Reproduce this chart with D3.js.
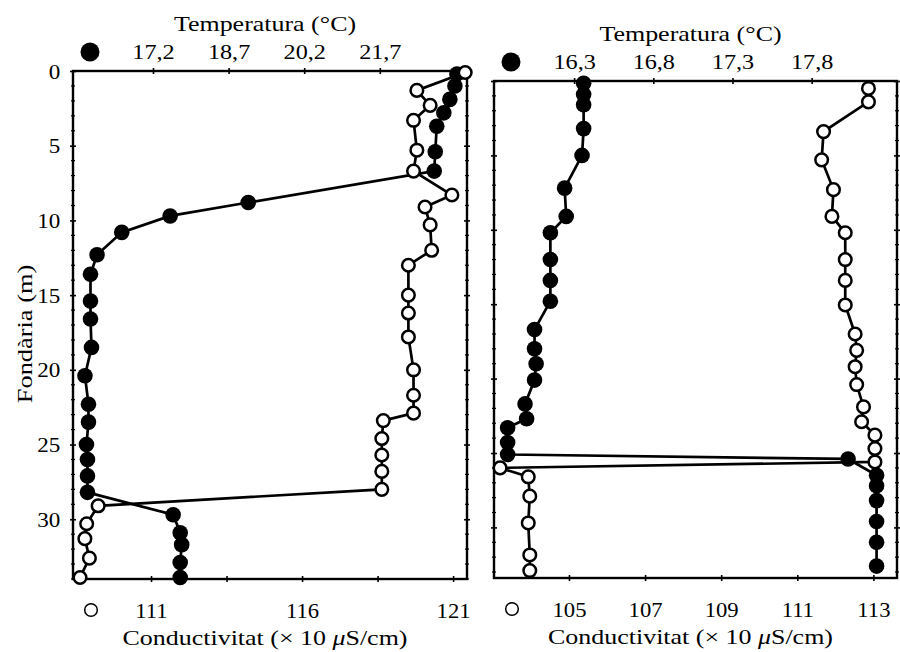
<!DOCTYPE html>
<html>
<head>
<meta charset="utf-8">
<script src="https://cdn.jsdelivr.net/npm/d3@7"></script>
<style>
body { margin: 0; background: #fff; }
svg { display: block; }
</style>
</head>
<body>
<svg id="chart" width="900" height="652"></svg>
<script>
// ---- data ----
var depthTicks = [0, 5, 10, 15, 20, 25, 30];

// left profile
var leftTempTicks = [17.2, 18.7, 20.2, 21.7];
var leftTempExtraTicks = [23.2];
var leftCondTicks = [111, 116, 121];
var leftCondExtraTicks = [113.5, 118.5];
var leftTempDepth = [0.2, 1.0, 1.9, 2.8, 3.7, 5.4, 6.7, 8.8, 9.7, 10.8, 12.3, 13.6, 15.4, 16.6, 18.5,
    20.4, 22.3, 23.5, 25.0, 26.0, 27.1, 28.2, 29.7, 30.9, 31.7, 32.9, 33.9];
var leftTemp = [23.23, 23.19, 23.09, 22.97, 22.83, 22.80, 22.78, 19.09, 17.54, 16.58, 16.09, 15.96, 15.96, 15.96, 15.98,
    15.85, 15.92, 15.92, 15.88, 15.90, 15.90, 15.90, 17.60, 17.74, 17.77, 17.74, 17.74];
var leftCondDepth = [0.1, 1.3, 2.3, 3.3, 5.3, 6.7, 8.3, 9.1, 10.3, 12.0, 13.0, 15.0, 16.2, 17.8, 20.0,
    21.7, 22.9, 23.4, 24.6, 25.7, 26.8, 28.0, 29.1, 30.3, 31.3, 32.6, 33.9];
var leftCond = [121.40, 119.80, 120.24, 119.69, 119.80, 119.69, 120.96, 120.07, 120.24, 120.29, 119.52, 119.52, 119.52, 119.52, 119.69,
    119.69, 119.69, 118.69, 118.64, 118.64, 118.64, 118.64, 109.25, 108.87, 108.81, 108.96, 108.65];

// right profile
var rightTempTicks = [16.3, 16.8, 17.3, 17.8];
var rightTempExtraTicks = [];
var rightCondTicks = [105, 107, 109, 111, 113];
var rightCondExtraTicks = [];
var rightTempDepth = [0.15, 0.9, 1.6, 3.2, 5.0, 7.2, 9.1, 10.2, 12.0, 13.4, 14.8, 16.7, 18.0, 19.0, 20.1,
    21.7, 22.7, 23.3, 24.3, 25.1, 25.4, 26.5, 27.2, 28.2, 29.6, 31.0, 32.6];
var rightTemp = [16.36, 16.36, 16.36, 16.36, 16.35, 16.24, 16.25, 16.15, 16.15, 16.15, 16.15, 16.05, 16.05, 16.06, 16.05,
    15.99, 16.00, 15.88, 15.88, 15.88, 18.03, 18.21, 18.21, 18.21, 18.21, 18.21, 18.21];
var rightCondDepth = [0.5, 1.4, 3.4, 5.3, 7.3, 9.1, 10.2, 12.0, 13.4, 15.05, 17.0, 18.1, 19.2, 20.4, 21.9,
    22.9, 23.8, 24.7, 25.6, 26.0, 26.6, 27.9, 29.7, 31.85, 32.9];
var rightCond = [112.87, 112.87, 111.69, 111.64, 111.95, 111.91, 112.26, 112.26, 112.26, 112.26, 112.52, 112.56, 112.52, 112.56, 112.74,
    112.69, 113.04, 113.04, 113.04, 103.19, 103.93, 103.97, 103.93, 103.97, 103.97];

// ---- layout ----
var FONT = '"Liberation Serif", "Times New Roman", serif';
var panels = [
    { left: 73, right: 467, top: 71, bottom: 579, depthMax: 34,
      tempDomain: [15.613, 23.43], condDomain: [108.417, 121.46],
      tempTicks: leftTempTicks, tempExtra: leftTempExtraTicks,
      condTicks: leftCondTicks, condExtra: leftCondExtraTicks,
      tempDepth: leftTempDepth, temp: leftTemp, condDepth: leftCondDepth, cond: leftCond,
      depthLabels: true },
    { left: 494, right: 897, top: 81, bottom: 578, depthMax: 33.4,
      tempDomain: [15.794, 18.339], condDomain: [103.03, 113.62],
      tempTicks: rightTempTicks, tempExtra: rightTempExtraTicks,
      condTicks: rightCondTicks, condExtra: rightCondExtraTicks,
      tempDepth: rightTempDepth, temp: rightTemp, condDepth: rightCondDepth, cond: rightCond,
      depthLabels: false }
];

var fmt = d3.formatLocale({ decimal: ",", thousands: ".", grouping: [3], currency: ["", ""] }).format(".1f");

var svg = d3.select("#chart");

function addText(g, x, y, txt, anchor, stretch, size) {
    return g.append("text")
        .attr("transform", "translate(" + x + "," + y + ") scale(" + stretch + ",1)")
        .attr("text-anchor", anchor)
        .style("font-family", FONT)
        .style("font-size", size + "px")
        .text(txt);
}

function styleAxis(sel, vertical) {
    sel.select(".domain").remove();
    sel.selectAll(".tick line").attr("stroke", "#000").attr("stroke-width", 1.6);
    if (vertical) sel.selectAll(".tick line").attr("x1", -3).attr("x2", 3);
    else sel.selectAll(".tick line").attr("y1", -3).attr("y2", 3);
    sel.selectAll("text")
        .style("font-family", FONT)
        .style("font-size", "22px")
        .attr("fill", "#000");
}

// labelled ticks plus a few unlabelled ones
function tickFmt(labelled, f) {
    return function(d) { return labelled.indexOf(d) >= 0 ? f(d) : ""; };
}

function drawSeries(g, depths, values, xs, y) {
    var pts = depths.map(function(d, i) { return { d: d, v: values[i] }; });
    var line = d3.line()
        .x(function(d) { return xs(d.v); })
        .y(function(d) { return y(d.d); });
    g.append("path")
        .datum(pts)
        .attr("d", line)
        .attr("fill", "none")
        .attr("stroke", "#000")
        .attr("stroke-width", 2.7);
    return pts;
}

function drawDots(g, pts, xs, y, filled) {
    g.append("g")
        .selectAll("circle")
        .data(pts)
        .enter()
        .append("circle")
        .attr("cx", function(d) { return xs(d.v); })
        .attr("cy", function(d) { return y(d.d); })
        .attr("r", filled ? 7.8 : 6.3)
        .attr("fill", filled ? "#000" : "#fff")
        .attr("stroke", "#000")
        .attr("stroke-width", filled ? 0 : 2.5);
}

panels.forEach(function(p) {
    var g = svg.append("g");
    var y = d3.scaleLinear().domain([0, p.depthMax]).range([p.top, p.bottom]);
    var xT = d3.scaleLinear().domain(p.tempDomain).range([p.left, p.right]);
    var xC = d3.scaleLinear().domain(p.condDomain).range([p.left, p.right]);

    // minor depth ticks on both edges
    var minor = d3.range(1, Math.floor(p.depthMax) + 1).filter(function(d) { return d % 5 !== 0; });
    [p.left, p.right].forEach(function(xe) {
        g.append("g").selectAll("line").data(minor).enter().append("line")
            .attr("x1", xe - 2).attr("x2", xe + 2)
            .attr("y1", function(d) { return y(d); })
            .attr("y2", function(d) { return y(d); })
            .attr("stroke", "#000").attr("stroke-width", 1.2);
    });

    // depth axis (left) and plain ticks on right edge
    var leftAx = g.append("g")
        .attr("transform", "translate(" + p.left + ",0)")
        .call(d3.axisLeft(y).tickValues(depthTicks).tickSize(3).tickPadding(9)
            .tickFormat(p.depthLabels ? d3.format("d") : ""));
    styleAxis(leftAx, true);
    leftAx.selectAll("text").attr("transform", "scale(1.05,1)");
    var rightAx = g.append("g")
        .attr("transform", "translate(" + p.right + ",0)")
        .call(d3.axisRight(y).tickValues(depthTicks).tickSize(3).tickFormat(""));
    styleAxis(rightAx, true);

    // temperature axis (top)
    var topAx = g.append("g")
        .attr("transform", "translate(0," + p.top + ")")
        .call(d3.axisTop(xT).tickValues(p.tempTicks.concat(p.tempExtra)).tickSize(3).tickPadding(9)
            .tickFormat(tickFmt(p.tempTicks, fmt)));
    styleAxis(topAx, false);
    topAx.selectAll("text").attr("transform", "scale(1.1,1)");

    // conductivity axis (bottom)
    var botAx = g.append("g")
        .attr("transform", "translate(0," + p.bottom + ")")
        .call(d3.axisBottom(xC).tickValues(p.condTicks.concat(p.condExtra)).tickSize(3).tickPadding(20)
            .tickFormat(tickFmt(p.condTicks, d3.format("d"))));
    styleAxis(botAx, false);
    botAx.selectAll("text").attr("transform", "scale(1.03,1)");

    // frame
    g.append("rect")
        .attr("x", p.left).attr("y", p.top)
        .attr("width", p.right - p.left).attr("height", p.bottom - p.top)
        .attr("fill", "none").attr("stroke", "#000").attr("stroke-width", 2.4);

    // series: lines first, then markers
    var tPts = drawSeries(g, p.tempDepth, p.temp, xT, y);
    var cPts = drawSeries(g, p.condDepth, p.cond, xC, y);
    drawDots(g, tPts, xT, y, true);
    drawDots(g, cPts, xC, y, false);

    // legend symbols
    g.append("circle")
        .attr("cx", p.left + 17).attr("cy", p.top - 19).attr("r", 9.5).attr("fill", "#000");
    g.append("circle")
        .attr("cx", p.left + 18).attr("cy", p.bottom + 31).attr("r", 6.3)
        .attr("fill", "#fff").attr("stroke", "#000").attr("stroke-width", 1.5);

    // axis titles
    var cx = (p.left + p.right) / 2 - 5;
    addText(g, cx, p.top - 40, "Temperatura (°C)", "middle", 1.18, 22);
    var t = addText(g, cx, p.bottom + 66, "Conductivitat (× 10 ", "middle", 1.18, 22);
    t.append("tspan").style("font-style", "italic").text("μ");
    t.append("tspan").text("S/cm)");
});

// depth title
addText(svg, 32, 334, "Fondària (m)", "middle", 1.2, 22)
    .attr("transform", "translate(32,334) rotate(-90) scale(1.2,1)");
</script>
</body>
</html>
